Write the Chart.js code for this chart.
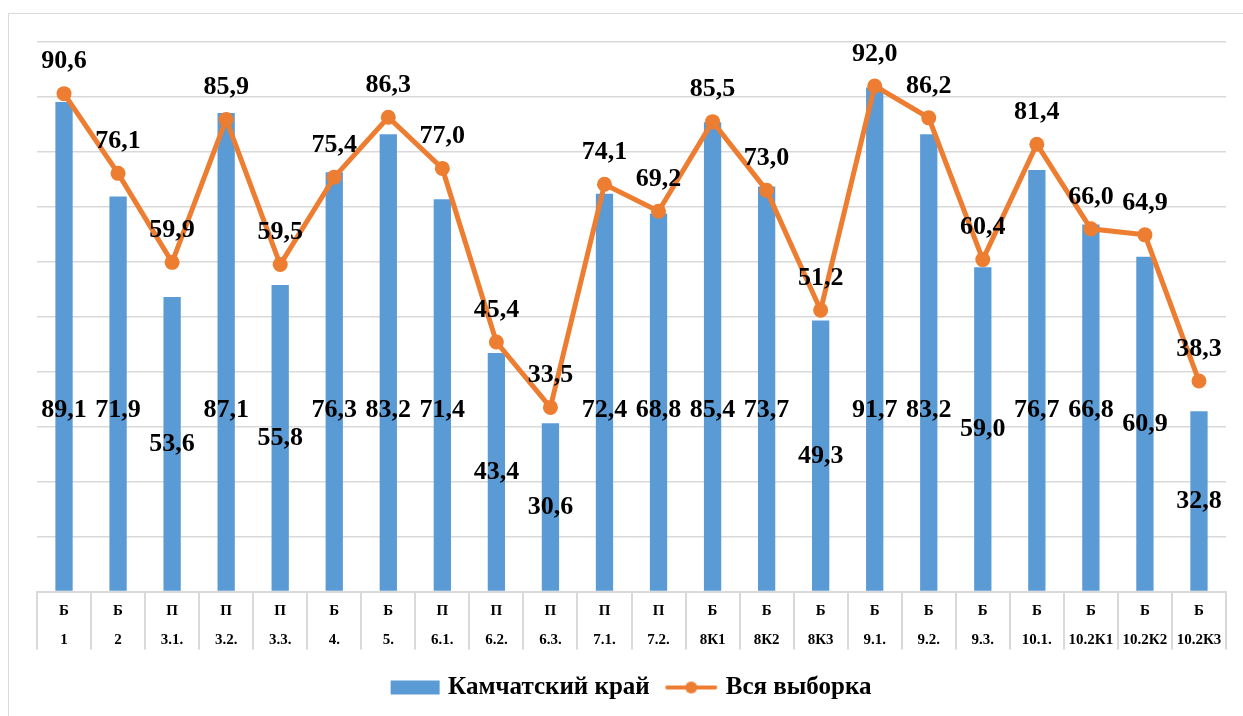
<!DOCTYPE html>
<html>
<head>
<meta charset="utf-8">
<script src="https://cdn.jsdelivr.net/npm/chart.js@4"></script>
<style>
  html, body { margin: 0; padding: 0; background: #fff; }
  body { width: 1243px; height: 716px; position: relative; overflow: hidden; }
  #frame { position: absolute; left: 8px; top: 13px; width: 1260px; height: 720px; border: 1px solid #d9d9d9; }
  #chart { position: absolute; left: 0; top: 0; }
</style>
</head>
<body>
<div id="frame"></div>
<canvas id="chart" width="1243" height="716"></canvas>
<script>
// ===== DATA =====
const groups = ['Б', 'Б', 'П', 'П', 'П', 'Б', 'Б', 'П', 'П', 'П', 'П', 'П', 'Б', 'Б', 'Б', 'Б', 'Б', 'Б', 'Б', 'Б', 'Б', 'Б'];
const tasks = ['1', '2', '3.1.', '3.2.', '3.3.', '4.', '5.', '6.1.', '6.2.', '6.3.', '7.1.', '7.2.', '8К1', '8К2', '8К3', '9.1.', '9.2.', '9.3.', '10.1.', '10.2К1', '10.2К2', '10.2К3'];
const kamchatka = [89.1, 71.9, 53.6, 87.1, 55.8, 76.3, 83.2, 71.4, 43.4, 30.6, 72.4, 68.8, 85.4, 73.7, 49.3, 91.7, 83.2, 59.0, 76.7, 66.8, 60.9, 32.8];
const sample = [90.6, 76.1, 59.9, 85.9, 59.5, 75.4, 86.3, 77.0, 45.4, 33.5, 74.1, 69.2, 85.5, 73.0, 51.2, 92.0, 86.2, 60.4, 81.4, 66.0, 64.9, 38.3];

const BLUE = '#5b9bd5';
const ORANGE = '#ed7d31';
const GRID = '#d9d9d9';
const FONT = "'Liberation Serif', 'Times New Roman', serif";

const fmt = v => v.toFixed(1).replace('.', ',');

// ===== LEGEND ICONS =====
function makeIcon(draw) {
  const c = document.createElement('canvas');
  c.width = 54; c.height = 16;
  draw(c.getContext('2d'));
  return c;
}
const barIcon = makeIcon(ctx => { ctx.fillStyle = BLUE; ctx.fillRect(4, 1, 49, 14); });
const lineIcon = makeIcon(ctx => {
  ctx.strokeStyle = ORANGE; ctx.lineWidth = 4; ctx.lineCap = 'round';
  ctx.beginPath(); ctx.moveTo(3, 8); ctx.lineTo(51, 8); ctx.stroke();
  ctx.fillStyle = ORANGE; ctx.beginPath(); ctx.arc(27, 8, 6, 0, Math.PI * 2); ctx.fill();
});

// ===== DATA LABELS =====
const valueLabels = {
  id: 'valueLabels',
  afterDatasetsDraw(chart) {
    const { ctx, scales: { y } } = chart;
    ctx.save();
    ctx.font = `bold 26px ${FONT}`;
    ctx.fillStyle = '#000';
    ctx.textAlign = 'center';
    ctx.textBaseline = 'middle';
    chart.getDatasetMeta(0).data.forEach((bar, i) => {
      const v = kamchatka[i];
      ctx.fillText(fmt(v), bar.x, y.getPixelForValue(Math.min(v / 2, 33)));
    });
    chart.getDatasetMeta(1).data.forEach((pt, i) => {
      ctx.fillText(fmt(sample[i]), pt.x, pt.y - 32);
    });
    ctx.restore();
  }
};

// ===== CATEGORY TABLE LINES =====
const tableLines = {
  id: 'tableLines',
  afterDraw(chart) {
    const { ctx, scales: { x } } = chart;
    const half = (x.getPixelForValue(1) - x.getPixelForValue(0)) / 2;
    ctx.save();
    ctx.strokeStyle = GRID;
    ctx.lineWidth = 2;
    ctx.beginPath();
    for (let i = 0; i <= tasks.length; i++) {
      const px = Math.round(x.getPixelForValue(i) - half);
      ctx.moveTo(px, x.top);
      ctx.lineTo(px, x.top + 58);
    }
    ctx.stroke();
    ctx.restore();
  }
};

// ===== CHART =====
new Chart(document.getElementById('chart'), {
  data: {
    labels: tasks.map((t, i) => [groups[i], t]),
    datasets: [
      {
        type: 'bar',
        label: 'Камчатский край',
        data: kamchatka,
        backgroundColor: BLUE,
        barPercentage: 0.32,
        categoryPercentage: 1,
        order: 2,
      },
      {
        type: 'line',
        label: 'Вся выборка',
        data: sample,
        borderColor: ORANGE,
        backgroundColor: ORANGE,
        borderWidth: 5,
        pointRadius: 7.5,
        pointBackgroundColor: ORANGE,
        pointBorderWidth: 0,
        tension: 0,
        order: 1,
      }
    ]
  },
  options: {
    responsive: false,
    animation: false,
    devicePixelRatio: 1,
    layout: { padding: { left: 37, right: 17, top: 42, bottom: 6 } },
    plugins: {
      tooltip: { enabled: false },
      legend: {
        position: 'bottom',
        labels: {
          usePointStyle: true,
          pointStyleWidth: 44,
          padding: 19.5,
          color: '#000',
          font: { family: FONT, size: 25, weight: 'bold' },
          generateLabels: chart => chart.data.datasets.map((ds, i) => ({
            text: ds.label,
            pointStyle: i === 0 ? barIcon : lineIcon,
            datasetIndex: i,
            fontColor: '#000',
            lineWidth: 0,
          }))
        }
      }
    },
    scales: {
      x: {
        offset: true,
        grid: { display: false, drawTicks: false },
        border: { color: GRID, width: 2 },
        afterFit: scale => { scale.height = 64; },
        ticks: {
          color: '#000',
          padding: 5,
          autoSkip: false,
          maxRotation: 0,
          font: { family: FONT, size: 15, weight: 'bold', lineHeight: 1.93 }
        }
      },
      y: {
        min: 0,
        max: 100,
        ticks: { display: false, stepSize: 10 },
        grid: { color: GRID, lineWidth: 1.5, drawTicks: false },
        border: { display: false }
      }
    }
  },
  plugins: [valueLabels, tableLines]
});
</script>
</body>
</html>
